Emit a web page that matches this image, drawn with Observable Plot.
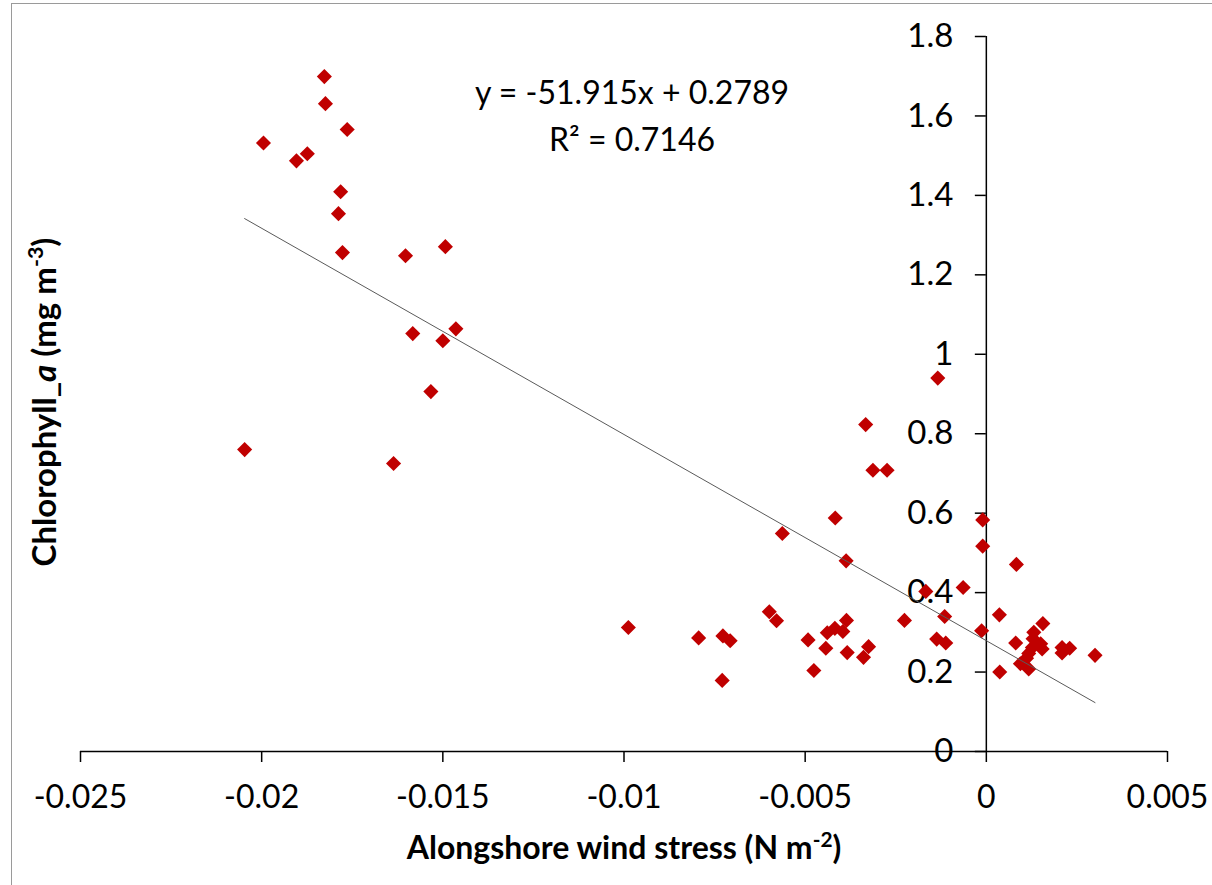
<!DOCTYPE html>
<html>
<head>
<meta charset="utf-8">
<script src="https://cdn.jsdelivr.net/npm/d3@7"></script>
<script src="https://cdn.jsdelivr.net/npm/@observablehq/plot@0.6"></script>
<style>
  html, body { margin: 0; padding: 0; background: #fff; }
  #wrap { position: relative; width: 1212px; height: 885px; overflow: hidden; }
  #frame { position: absolute; left: 11px; top: 3px; width: 1400px; height: 1000px;
           border-left: 1.5px solid #9a9a9a; border-top: 1.5px solid #9a9a9a; pointer-events: none; }
</style>
</head>
<body>
<div id="wrap"><div id="frame"></div></div>
<script>
// Alongshore wind stress (N m-2)
const windStress = [
  -0.01827, -0.01824, -0.01764, -0.01995, -0.01904, -0.01874, -0.01782, -0.01788, -0.01777,
  -0.01603, -0.01493, -0.01583, -0.01464, -0.01500, -0.01533, -0.02047, -0.01636,
  -0.00988, -0.00794, -0.00727, -0.00707, -0.00729, -0.00599, -0.00579, -0.00563, -0.00492,
  -0.00476, -0.00443, -0.00439, -0.00418, -0.00417, -0.00396, -0.00386, -0.00387, -0.00384,
  -0.00339, -0.00325, -0.00333, -0.00313, -0.00274, -0.00226,
  -0.00167, -0.00134, -0.00137, -0.00115, -0.00112, -0.00064, -0.00013, -0.00010, -0.00010,
  0.00036, 0.00037, 0.00081, 0.00083, 0.00094, 0.00111, 0.00117, 0.00117, 0.00127, 0.00129,
  0.00131, 0.00150, 0.00154, 0.00156, 0.00209, 0.00209, 0.00230, 0.00300
];
// Chlorophyll_a (mg m-3)
const chlorophyll = [
  1.699, 1.631, 1.566, 1.532, 1.487, 1.505, 1.409, 1.354, 1.256,
  1.248, 1.271, 1.052, 1.064, 1.034, 0.906, 0.760, 0.725,
  0.312, 0.286, 0.291, 0.279, 0.179, 0.352, 0.329, 0.549, 0.281,
  0.204, 0.260, 0.299, 0.310, 0.588, 0.302, 0.330, 0.480, 0.249,
  0.237, 0.264, 0.823, 0.708, 0.708, 0.330,
  0.403, 0.940, 0.283, 0.340, 0.273, 0.413, 0.304, 0.583, 0.517,
  0.344, 0.200, 0.273, 0.471, 0.221, 0.235, 0.247, 0.208, 0.262, 0.284,
  0.300, 0.271, 0.258, 0.322, 0.262, 0.248, 0.260, 0.242
];
const xTicks = [-0.025, -0.02, -0.015, -0.01, -0.005, 0, 0.005];
const yTicks = [0, 0.2, 0.4, 0.6, 0.8, 1, 1.2, 1.4, 1.6, 1.8];
const slope = -51.915;
const intercept = 0.2789;
const rSquared = 0.7146;
const xTitle = "Alongshore wind stress (N m-2)";
const yTitle = "Chlorophyll_a (mg m-3)";

const points = windStress.map((x, i) => ({x, y: chlorophyll[i]}));
const trend = d3.extent(windStress).map(x => ({x, y: slope * x + intercept}));
const equation = `y = ${slope}x + ${intercept}\nR² = ${rSquared}`;

const chart = Plot.plot({
  width: 1212,
  height: 885,
  marginLeft: 80,
  marginRight: 45,
  marginTop: 36,
  marginBottom: 134,
  x: {domain: [-0.025, 0.005], axis: null},
  y: {domain: [0, 1.8], axis: null},
  style: {fontFamily: "Lato, 'Open Sans', sans-serif", color: "black", background: "transparent", overflow: "visible"},
  marks: [
    Plot.ruleY([0], {stroke: "black", strokeWidth: 1.5}),
    Plot.ruleX([0], {stroke: "black", strokeWidth: 1.5}),
    Plot.ruleX(xTicks, {x: d => d, y1: 0, y2: 0, insetBottom: -11, stroke: "black", strokeWidth: 1.5}),
    Plot.ruleY(yTicks, {y: d => d, x1: 0, x2: 0, insetLeft: -11, stroke: "black", strokeWidth: 1.5}),
    Plot.text(xTicks, {x: d => d, y: 0, text: d => String(d), dy: 46, fontSize: 32, lineAnchor: "middle", fill: "black"}),
    Plot.text(yTicks, {x: 0, y: d => d, text: d => String(d), dx: -33, textAnchor: "end", fontSize: 33, fill: "black"}),
    Plot.dot(points, {x: "x", y: "y", symbol: "diamond2", r: 6.8, fill: "#C00000", stroke: "none"}),
    Plot.line(trend, {x: "x", y: "y", stroke: "#5a5a5a", strokeWidth: 1}),
    Plot.text([equation], {frameAnchor: "top", dx: 8, dy: 35, lineAnchor: "top", lineHeight: 1.45, fontSize: 32, fill: "black"}),
    Plot.text([xTitle], {frameAnchor: "bottom", dy: 97, lineAnchor: "middle", textAnchor: "middle", fontSize: 32, fontWeight: "bold", fill: "black"}),
    Plot.text([yTitle], {frameAnchor: "left", rotate: -90, dx: -35, dy: 8, lineAnchor: "middle", textAnchor: "middle", fontSize: 33, fontWeight: "bold", fill: "black"})
  ]
});

// rich text for axis titles (superscripts, italic)
function rich(str, parts) {
  d3.select(chart).selectAll("text").filter(function() { return this.textContent === str; })
    .each(function() {
      const t = d3.select(this);
      t.text(null);
      for (const p of parts) {
        const s = t.append("tspan").text(p.t);
        if (p.i) s.attr("font-style", "italic");
        if (p.sup) s.attr("baseline-shift", "super").attr("font-size", "65%");
      }
    });
}
rich(xTitle, [{t: "Alongshore wind stress (N m"}, {t: "-2", sup: true}, {t: ")"}]);
rich(yTitle, [{t: "Chlorophyll_"}, {t: "a", i: true}, {t: " (mg m"}, {t: "-3", sup: true}, {t: ")"}]);

document.getElementById("wrap").prepend(chart);
</script>
</body>
</html>
